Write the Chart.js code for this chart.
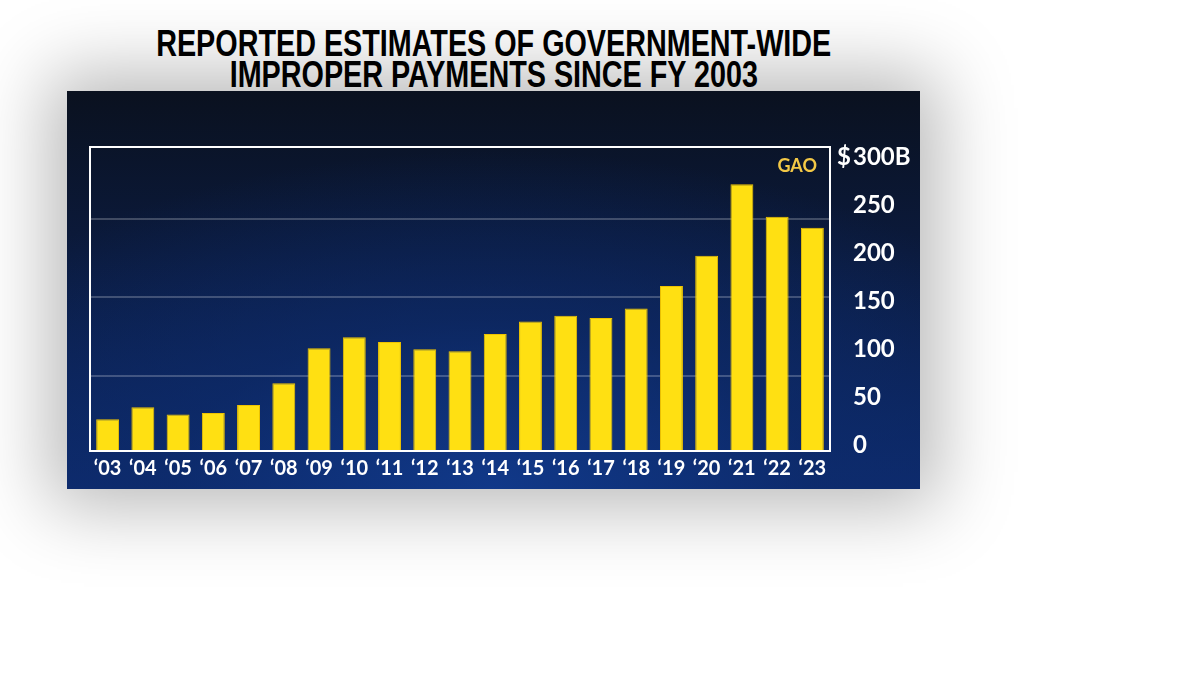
<!DOCTYPE html>
<html>
<head>
<meta charset="utf-8">
<title>Improper payments</title>
<script src="https://cdn.jsdelivr.net/npm/chart.js@4.4.1/dist/chart.umd.min.js"></script>
<style>
  html, body { margin: 0; padding: 0; background: #fff; }
  body { width: 1200px; height: 675px; position: relative; overflow: hidden; }
  #title {
    position: absolute; left: 0; top: 28px; width: 988px;
    text-align: center;
    font-family: "Liberation Sans", Arial, sans-serif;
    font-weight: bold; font-size: 36px; line-height: 31px; color: #000;
  }
  #title span { display: inline-block; white-space: nowrap; transform-origin: center; }
  #panel {
    position: absolute; left: 67px; top: 91px; width: 853px; height: 398px;
    background:
      radial-gradient(ellipse 75% 85% at 50% 100%, rgba(17,58,140,0.9) 0%, rgba(13,44,110,0.6) 50%, rgba(12,30,70,0) 100%),
      linear-gradient(to bottom, #0a111f 0%, #0b1a3c 40%, #0d2a6c 100%);
    box-shadow: 0 0 70px 18px rgba(0,0,0,0.28);
  }
  #panel canvas { position: absolute; left: 0; top: 0; }
</style>
</head>
<body>
<div id="title"><span id="t1">REPORTED ESTIMATES OF GOVERNMENT-WIDE</span><br><span id="t2">IMPROPER PAYMENTS SINCE FY 2003</span></div>
<div id="panel"><canvas id="chart" width="853" height="398"></canvas></div>
<script>
// fiscal years
const years = ['‘03', '‘04', '‘05', '‘06', '‘07', '‘08', '‘09', '‘10', '‘11', '‘12', '‘13',
               '‘14', '‘15', '‘16', '‘17', '‘18', '‘19', '‘20', '‘21', '‘22', '‘23'];
// improper payments, $ billions
const improperPayments = [33, 45.5, 38, 39.5, 48, 70.5, 107, 118.5, 113.5, 106, 104,
                          122, 135, 141, 138.5, 148.5, 172, 203.5, 278, 244, 232.5];
const yTicks = [0, 50, 100, 150, 200, 250, 300];
const gridValues = [78, 160, 242];
const yMax = 316.7;

// squeeze title lines to the width of the original lettering
const t1 = document.getElementById('t1'), t2 = document.getElementById('t2');
const sx = 675 / t1.getBoundingClientRect().width;
t1.style.transform = 'scaleX(' + sx + ')';
t2.style.transform = 'scaleX(' + sx + ')';

const labelFont = 'Lato, "Open Sans", sans-serif';

const framePlugin = {
  id: 'frame',
  afterDatasetsDraw(chart) {
    const a = chart.chartArea, ctx = chart.ctx;
    ctx.save();
    ctx.strokeStyle = '#ffffff';
    ctx.lineWidth = 2;
    ctx.strokeRect(a.left, a.top, a.right - a.left, a.bottom - a.top);
    // source tag
    ctx.fillStyle = '#f3c846';
    ctx.font = 'bold 18px ' + labelFont;
    ctx.textAlign = 'right';
    ctx.textBaseline = 'middle';
    ctx.fillText('GAO', a.right - 13, a.top + 19);
    // dollar sign hung in front of the top tick
    const y = chart.scales.y.getPixelForValue(300) - 6;
    ctx.fillStyle = '#ffffff';
    ctx.font = 'bold 24px ' + labelFont;
    ctx.fillText('$', a.right + 21, y);
    ctx.restore();
  }
};

new Chart(document.getElementById('chart'), {
  type: 'bar',
  data: {
    labels: years,
    datasets: [{
      data: improperPayments,
      backgroundColor: '#ffe012',
      borderColor: '#efc300',
      borderWidth: 1,
      barPercentage: 0.65,
      categoryPercentage: 1
    }]
  },
  options: {
    responsive: false,
    animation: false,
    devicePixelRatio: 1,
    layout: { padding: { left: 23, top: 56, right: 0, bottom: 0 } },
    plugins: { legend: { display: false }, tooltip: { enabled: false } },
    scales: {
      x: {
        grid: { display: false, drawTicks: false },
        border: { display: false },
        ticks: {
          color: '#ffffff', padding: 6, maxRotation: 0, autoSkip: false,
          font: { family: labelFont, weight: 'bold', size: 20 }
        },
        afterFit(s) { s.height = 38; }
      },
      y: {
        position: 'right', min: 0, max: yMax,
        afterBuildTicks(s) { s.ticks = yTicks.map(v => ({ value: v })); },
        grid: { display: false, drawTicks: false },
        border: { display: false },
        ticks: {
          color: '#ffffff', crossAlign: 'near', padding: 23, labelOffset: -6,
          font: { family: labelFont, weight: 'bold', size: 24 },
          callback: v => v === 300 ? '300B' : String(v)
        },
        afterFit(s) { s.width = 90; }
      },
      yGrid: {
        position: 'left', min: 0, max: yMax,
        afterBuildTicks(s) { s.ticks = gridValues.map(v => ({ value: v })); },
        grid: { color: 'rgba(255,255,255,0.22)', lineWidth: 2, drawTicks: false },
        border: { display: false },
        ticks: { display: false },
        afterFit(s) { s.width = 0; }
      }
    }
  },
  plugins: [framePlugin]
});
</script>
</body>
</html>
